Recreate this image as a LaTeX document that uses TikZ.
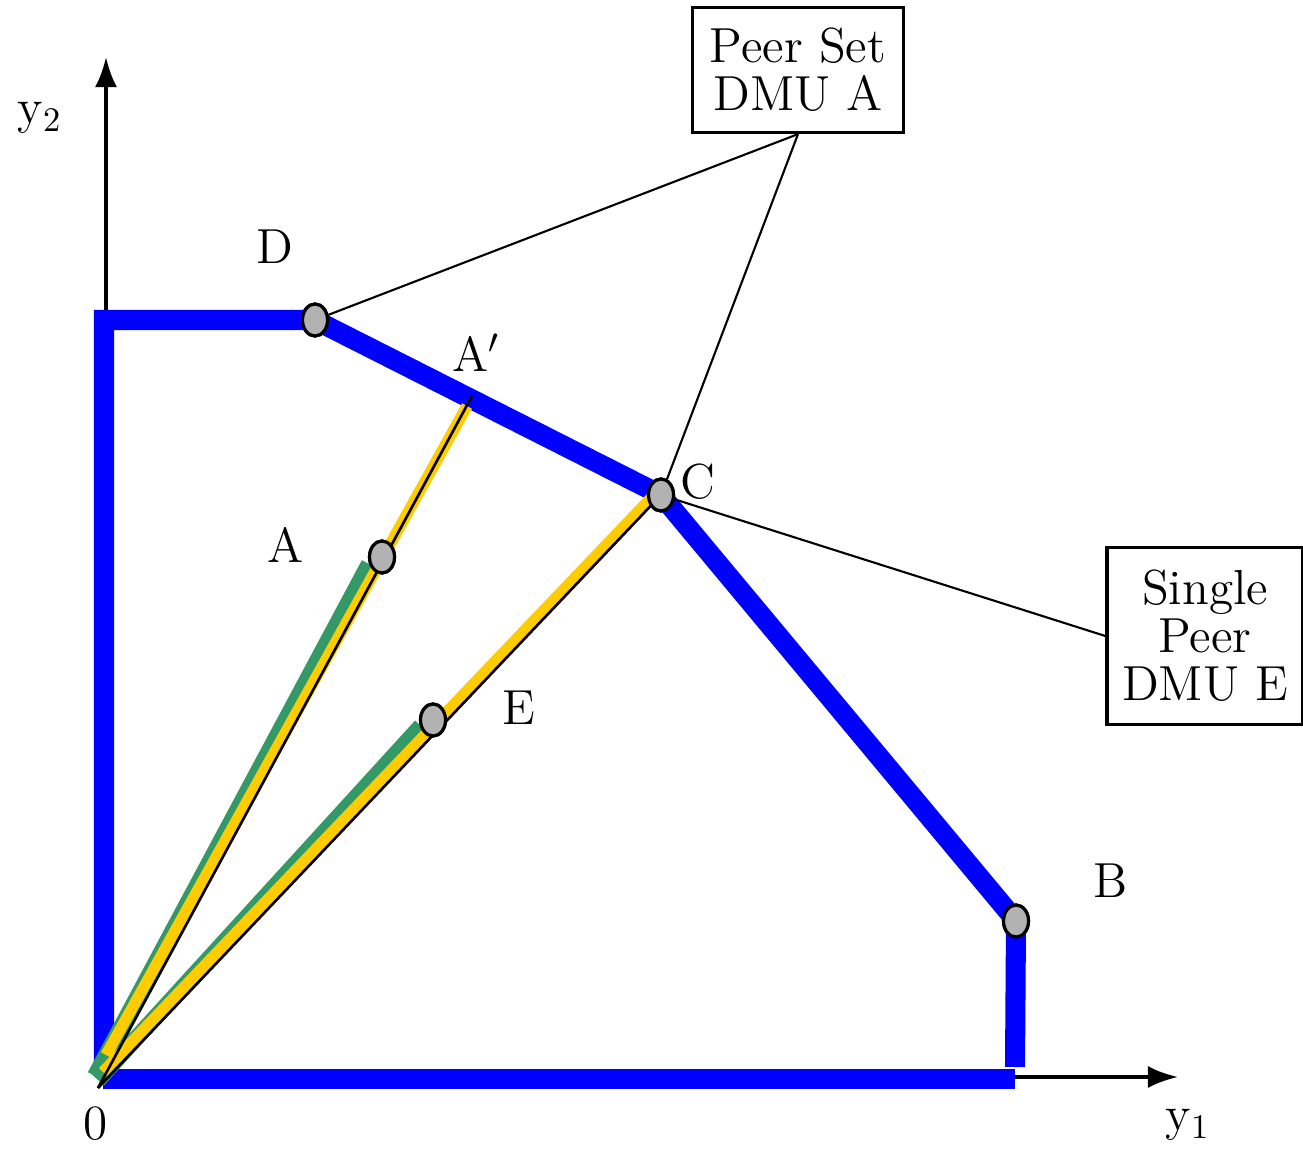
\documentclass[tikz,border=0pt]{standalone}
\usepackage{amsmath}
\usepackage{tikz}
\usetikzlibrary{shapes.geometric, arrows.meta}

\definecolor{frontier}{RGB}{0,0,255}
\definecolor{rayyellow}{RGB}{255,204,0}
\definecolor{raygreen}{RGB}{51,153,102}
\definecolor{dmugray}{RGB}{178,178,178}

\begin{document}
\begin{tikzpicture}[x=0.01cm, y=-0.01cm,
		every node/.style={font=\fontsize{14}{13.6}\selectfont},
		dmu/.style={ellipse, draw=black, line width=0.9pt, fill=dmugray, minimum width=0.25cm, minimum height=0.32cm, inner sep=0pt},
		axis/.style={line width=1.1pt, -{Latex[length=0.3cm, width=0.22cm]}},
		edge/.style={draw=frontier, line width=5.7pt},
		callout/.style={draw, line width=0.9pt, align=center, inner sep=0pt}]
		\useasboundingbox (0, 0) rectangle (1303, 1152);

		\coordinate (O) at (98, 1088);
		\coordinate (Ytip) at (106, 57);
		\coordinate (Xtip) at (1178, 1077);
		\coordinate (Ybase) at (106, 1078);
		\coordinate (Xbase) at (1000, 1077);

		\draw[axis] (Ybase) -- (Ytip);
		\draw[axis] (Xbase) -- (Xtip);

		\node[dmu] (D) at (315, 320) {};
		\node[dmu] (A) at (382, 557) {};
		\node[dmu] (E) at (433, 720) {};
		\node[dmu] (C) at (661, 495) {};
		\node[dmu] (B) at (1016, 921) {};

		\coordinate (F1) at (104, 1070);
		\coordinate (F2) at (104, 320);
		\coordinate (F3) at (1015, 1067);
		\coordinate (G1) at (103, 1079);
		\coordinate (G2) at (1015, 1079);
		\coordinate (Ap) at (472, 396);

		\draw[edge, line join=miter] (F1) -- (F2) -- (D.center) -- (C.center) -- (B.center) -- (F3);
		\draw[edge] (G1) -- (G2);

		\draw[raygreen, line width=4.6pt] (95, 1076) -- (369, 564);
		\draw[raygreen, line width=4.6pt] (98, 1080) -- (421, 726);

		\draw[rayyellow, line width=3.2pt] (106, 1055) -- (467, 406);
		\draw[rayyellow, line width=3.2pt] (103, 1072) -- (652, 497);

		\draw[line width=0.75pt] (O) -- (Ap);
		\draw[line width=0.75pt] (O) -- (C.center);

		\node[dmu] at (D) {};
		\node[dmu] at (A) {};
		\node[dmu] at (E) {};
		\node[dmu] at (C) {};
		\node[dmu] at (B) {};

		\node[callout, minimum width=2.11cm, minimum height=1.25cm] (peer) at (798, 70) {Peer Set\\DMU A};
		\node[callout, minimum width=1.96cm, minimum height=1.77cm] (single) at (1205, 636) {Single\\Peer\\DMU E};

		\draw[line width=0.6pt] (peer.south) -- (D);
		\draw[line width=0.6pt] (peer.south) -- (C);
		\draw[line width=0.6pt] (single.west) -- (C);

		\node (lD) at (275, 247) {D};
		\node (lAp) at (476, 353) {A$'$};
		\node (lC) at (698, 482) {C};
		\node (lA) at (286, 545) {A};
		\node (lE) at (519, 708) {E};
		\node (lB) at (1111, 881) {B};
		\node (l0) at (96, 1124) {0};
		\node (ly1) at (1188, 1125) {y\textsubscript{1}};
		\node (ly2) at (40, 118) {y\textsubscript{2}};
	\end{tikzpicture}
\end{document}
